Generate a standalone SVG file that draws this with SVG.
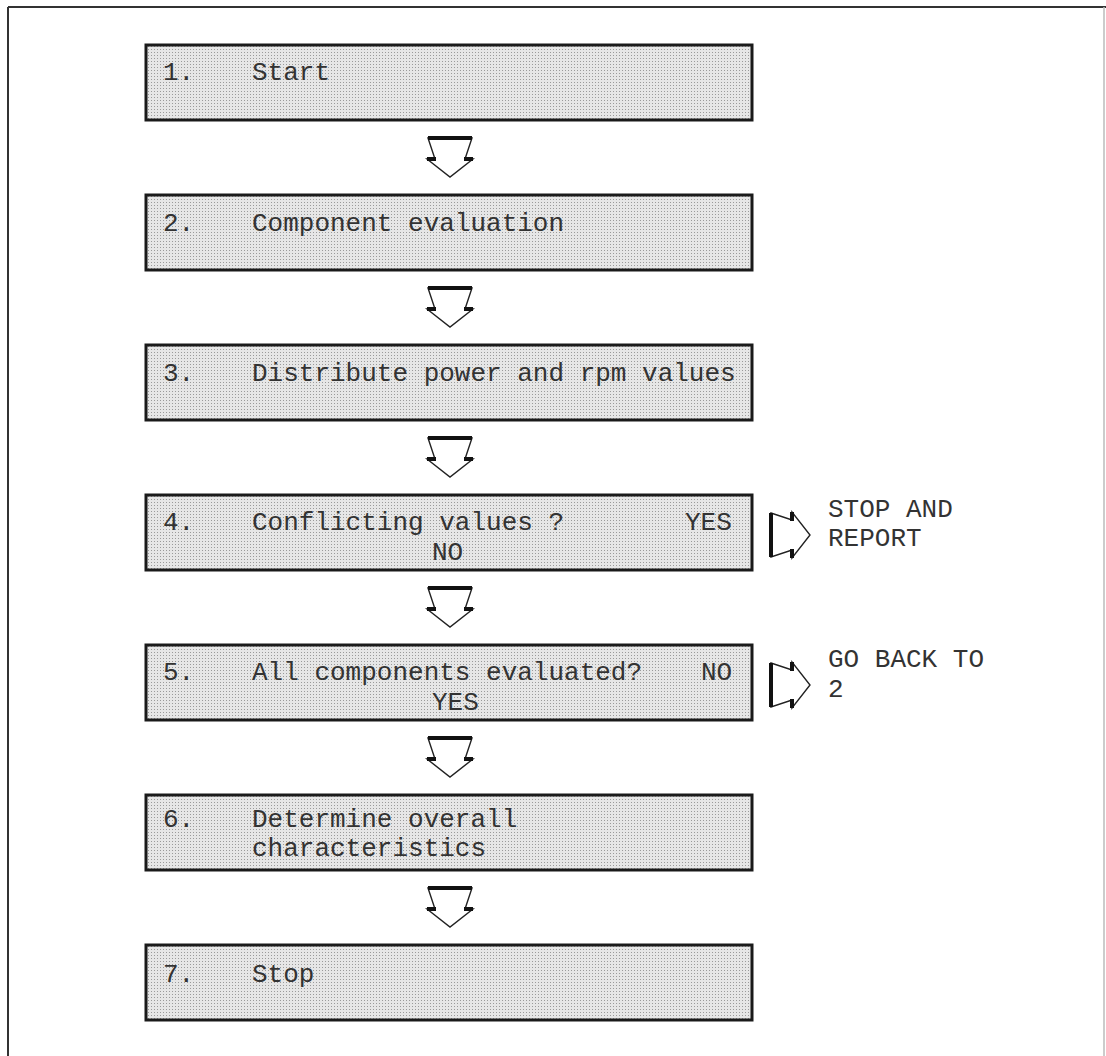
<svg xmlns="http://www.w3.org/2000/svg" width="1106" height="1056" viewBox="0 0 1106 1056">
<defs>
<pattern id="dots" width="3" height="3" patternUnits="userSpaceOnUse">
<rect width="3" height="3" fill="#e6e6e6"/>
<rect x="1" y="1" width="1" height="1" fill="#9a9a9a"/>
</pattern>
<g id="darrow">
<polygon points="-22,0 -15,21 -23,21 0,39 23,21 15,21 22,0" fill="#fff" stroke="#222" stroke-width="1.4" stroke-linejoin="miter"/>
<line x1="-22" y1="0" x2="22" y2="0" stroke="#111" stroke-width="4"/>
<line x1="-23" y1="21" x2="-14" y2="21" stroke="#111" stroke-width="4"/>
<line x1="14" y1="21" x2="23" y2="21" stroke="#111" stroke-width="4"/>
</g>
<g id="rarrow">
<polygon points="0,-22 21,-15 21,-23 39,0 21,23 21,15 0,22" fill="#fff" stroke="#222" stroke-width="1.4"/>
<line x1="0" y1="-22" x2="0" y2="22" stroke="#111" stroke-width="4"/>
<line x1="21" y1="-23" x2="21" y2="-14" stroke="#111" stroke-width="4"/>
<line x1="21" y1="14" x2="21" y2="23" stroke="#111" stroke-width="4"/>
</g>
</defs>
<style>
.box{fill:url(#dots);stroke:#1a1a1a;stroke-width:3}
.t{font-family:"Liberation Mono","Courier New",monospace;font-size:26px;fill:#333}
</style>
<rect width="1106" height="1056" fill="#fff"/>
<g id="frame" fill="none" stroke="#333" stroke-width="2">
<line x1="8" y1="7" x2="1106" y2="7"/>
<line x1="8" y1="7" x2="8" y2="1056"/>
<line x1="1104" y1="7" x2="1104" y2="1056" stroke="#bbb" stroke-width="1.5"/>
</g>
<g id="n1"><rect class="box" x="146" y="45" width="606" height="75"/><text class="t" x="163" y="80">1.</text><text class="t" x="252" y="80">Start</text></g>
<g id="n2"><rect class="box" x="146" y="195" width="606" height="75"/><text class="t" x="163" y="231">2.</text><text class="t" x="252" y="231">Component evaluation</text></g>
<g id="n3"><rect class="box" x="146" y="345" width="606" height="75"/><text class="t" x="163" y="381">3.</text><text class="t" x="252" y="381">Distribute power and rpm values</text></g>
<g id="n4"><rect class="box" x="146" y="495" width="606" height="75"/><text class="t" x="163" y="530">4.</text><text class="t" x="252" y="530">Conflicting values ?</text><text class="t" x="685" y="530">YES</text><text class="t" x="432" y="560">NO</text></g>
<g id="n5"><rect class="box" x="146" y="645" width="606" height="75"/><text class="t" x="163" y="680">5.</text><text class="t" x="252" y="680">All components evaluated?</text><text class="t" x="701" y="680">NO</text><text class="t" x="432" y="710">YES</text></g>
<g id="n6"><rect class="box" x="146" y="795" width="606" height="75"/><text class="t" x="163" y="827">6.</text><text class="t" x="252" y="827">Determine overall</text><text class="t" x="252" y="856">characteristics</text></g>
<g id="n7"><rect class="box" x="146" y="945" width="606" height="75"/><text class="t" x="163" y="982">7.</text><text class="t" x="252" y="982">Stop</text></g>
<g id="n8"><text class="t" x="828" y="517">STOP AND</text><text class="t" x="828" y="546">REPORT</text></g>
<g id="n9"><text class="t" x="828" y="667">GO BACK TO</text><text class="t" x="828" y="697">2</text></g>
<g id="connectors">
<use href="#darrow" x="450" y="138"/>
<use href="#darrow" x="450" y="288"/>
<use href="#darrow" x="450" y="438"/>
<use href="#darrow" x="450" y="588"/>
<use href="#darrow" x="450" y="738"/>
<use href="#darrow" x="450" y="888"/>
<use href="#rarrow" x="771" y="535"/>
<use href="#rarrow" x="771" y="685"/>
</g>
</svg>
